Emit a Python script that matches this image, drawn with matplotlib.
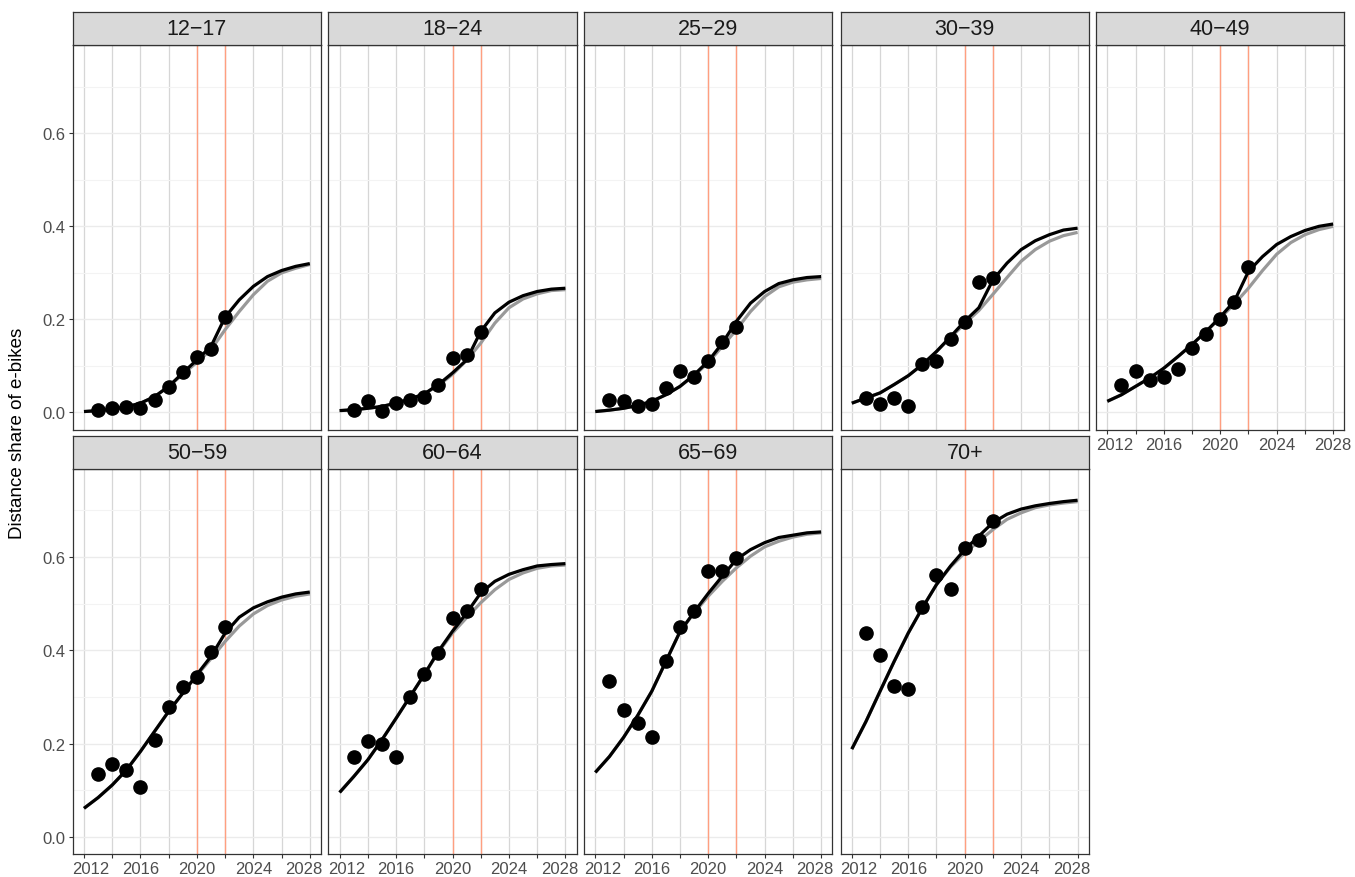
import matplotlib
matplotlib.use("Agg")
import matplotlib.pyplot as plt
from matplotlib.transforms import ScaledTranslation

plt.rcParams['font.family'] = ['Liberation Sans', 'DejaVu Sans']

# ---- data -------------------------------------------------------------
groups = ["12−17", "18−24", "25−29", "30−39", "40−49",
          "50−59", "60−64", "65−69", "70+"]

obs_years = list(range(2013, 2023))
fit_years = list(range(2012, 2029))

obs_12_17 = [0.006, 0.009, 0.011, 0.009, 0.027, 0.054, 0.088, 0.120, 0.137, 0.205]
obs_18_24 = [0.006, 0.024, 0.004, 0.020, 0.026, 0.034, 0.060, 0.117, 0.123, 0.174]
obs_25_29 = [0.027, 0.024, 0.013, 0.018, 0.052, 0.090, 0.077, 0.111, 0.151, 0.184]
obs_30_39 = [0.032, 0.019, 0.032, 0.015, 0.105, 0.110, 0.158, 0.194, 0.280, 0.290]
obs_40_49 = [0.059, 0.090, 0.069, 0.077, 0.094, 0.138, 0.169, 0.201, 0.237, 0.312]
obs_50_59 = [0.135, 0.156, 0.143, 0.106, 0.208, 0.278, 0.321, 0.342, 0.396, 0.449]
obs_60_64 = [0.172, 0.206, 0.200, 0.171, 0.299, 0.350, 0.394, 0.470, 0.484, 0.532]
obs_65_69 = [0.335, 0.272, 0.244, 0.215, 0.376, 0.449, 0.484, 0.570, 0.570, 0.599]
obs_70p = [0.437, 0.391, 0.324, 0.317, 0.492, 0.561, 0.531, 0.620, 0.636, 0.677]

# fitted trajectory including the latest observations (black)
fit_12_17 = [0.002, 0.004, 0.007, 0.012, 0.020, 0.034, 0.056, 0.085, 0.113, 0.142,
             0.205, 0.242, 0.271, 0.292, 0.305, 0.314, 0.320]
fit_18_24 = [0.004, 0.006, 0.009, 0.013, 0.020, 0.029, 0.040, 0.060, 0.085, 0.113,
             0.174, 0.214, 0.237, 0.251, 0.260, 0.265, 0.267]
fit_25_29 = [0.002, 0.005, 0.009, 0.015, 0.024, 0.038, 0.056, 0.081, 0.110, 0.149,
             0.196, 0.235, 0.260, 0.277, 0.285, 0.290, 0.292]
fit_30_39 = [0.020, 0.031, 0.042, 0.060, 0.079, 0.103, 0.131, 0.163, 0.196, 0.225,
             0.285, 0.321, 0.350, 0.369, 0.382, 0.392, 0.396]
fit_40_49 = [0.024, 0.038, 0.056, 0.074, 0.095, 0.120, 0.146, 0.174, 0.205, 0.239,
             0.303, 0.335, 0.361, 0.378, 0.391, 0.400, 0.405]
fit_50_59 = [0.061, 0.084, 0.111, 0.143, 0.183, 0.226, 0.269, 0.308, 0.348, 0.387,
             0.437, 0.471, 0.491, 0.504, 0.514, 0.521, 0.525]
fit_60_64 = [0.095, 0.129, 0.165, 0.208, 0.254, 0.301, 0.348, 0.398, 0.441, 0.480,
             0.523, 0.548, 0.563, 0.573, 0.581, 0.584, 0.586]
fit_65_69 = [0.138, 0.172, 0.213, 0.260, 0.312, 0.376, 0.440, 0.482, 0.522, 0.559,
             0.595, 0.616, 0.631, 0.642, 0.647, 0.652, 0.654]
fit_70p = [0.188, 0.247, 0.312, 0.376, 0.437, 0.491, 0.541, 0.581, 0.616, 0.645,
           0.674, 0.692, 0.703, 0.710, 0.715, 0.719, 0.722]

# baseline trajectory (grey)
base_12_17 = [0.002, 0.004, 0.007, 0.012, 0.020, 0.034, 0.056, 0.082, 0.108, 0.135,
              0.178, 0.217, 0.253, 0.282, 0.300, 0.310, 0.318]
base_18_24 = [0.004, 0.006, 0.009, 0.013, 0.020, 0.029, 0.040, 0.058, 0.082, 0.112,
              0.149, 0.192, 0.225, 0.244, 0.255, 0.262, 0.264]
base_25_29 = [0.002, 0.005, 0.009, 0.015, 0.024, 0.038, 0.056, 0.079, 0.107, 0.142,
              0.178, 0.217, 0.249, 0.270, 0.280, 0.285, 0.288]
base_30_39 = [0.020, 0.031, 0.042, 0.060, 0.079, 0.103, 0.131, 0.161, 0.191, 0.219,
              0.254, 0.290, 0.325, 0.350, 0.368, 0.380, 0.387]
base_40_49 = [0.024, 0.038, 0.056, 0.074, 0.095, 0.120, 0.146, 0.174, 0.203, 0.233,
              0.267, 0.305, 0.340, 0.365, 0.382, 0.393, 0.400]
base_50_59 = [0.061, 0.084, 0.111, 0.143, 0.183, 0.226, 0.269, 0.308, 0.346, 0.382,
              0.419, 0.452, 0.478, 0.496, 0.508, 0.516, 0.521]
base_60_64 = [0.095, 0.129, 0.165, 0.208, 0.254, 0.301, 0.348, 0.396, 0.437, 0.470,
              0.502, 0.530, 0.552, 0.566, 0.576, 0.581, 0.583]
base_65_69 = [0.138, 0.172, 0.213, 0.260, 0.312, 0.376, 0.440, 0.480, 0.516, 0.548,
              0.577, 0.602, 0.622, 0.634, 0.643, 0.649, 0.652]
base_70p = [0.188, 0.247, 0.312, 0.376, 0.437, 0.491, 0.541, 0.579, 0.609, 0.634,
            0.659, 0.681, 0.695, 0.706, 0.712, 0.716, 0.719]

obs_all = [obs_12_17, obs_18_24, obs_25_29, obs_30_39, obs_40_49,
           obs_50_59, obs_60_64, obs_65_69, obs_70p]
fit_all = [fit_12_17, fit_18_24, fit_25_29, fit_30_39, fit_40_49,
           fit_50_59, fit_60_64, fit_65_69, fit_70p]
base_all = [base_12_17, base_18_24, base_25_29, base_30_39, base_40_49,
            base_50_59, base_60_64, base_65_69, base_70p]

event_years = [2020, 2022]
x_ticks = list(range(2012, 2029, 2))
x_labels = [str(y) if (y - 2012) % 4 == 0 else "" for y in x_ticks]
y_ticks = [0.0, 0.2, 0.4, 0.6]
y_minor = [0.1, 0.3, 0.5, 0.7]
y_label = "Distance share of e-bikes"

# ---- layout (pixel geometry) ------------------------------------------
W, H = 1355, 878
fig = plt.figure(figsize=(W / 100, H / 100), dpi=100)
fig.patch.set_facecolor("white")


def rect(l, t, r, b):
    return [l / W, 1 - b / H, (r - l) / W, (b - t) / H]


col_left = [72.7, 328.3, 584.0, 840.5, 1096.0]
panel_w = 248.4
y_range = (-0.037, 0.789)
rows = [
    dict(strip=(13.3, 46.3), panel=(46.3, 430.7)),
    dict(strip=(437.3, 470.0), panel=(470.0, 855.0)),
]

BORDER = "#333333"
TICKTXT = "#4D4D4D"

for i, name in enumerate(groups):
    r, c = divmod(i, 5)
    row = rows[r]
    l = col_left[c]
    rgt = l + panel_w
    pt, pb = row["panel"]
    ax = fig.add_axes(rect(l, pt, rgt, pb))
    ax.set_xlim(2011.2, 2028.8)
    ax.set_ylim(*y_range)

    # grid
    for xv in x_ticks:
        ax.axvline(xv, color="#D6D6D6", lw=0.9, zorder=0)
    for yv in y_ticks:
        ax.axhline(yv, color="#EBEBEB", lw=1.0, zorder=0)
    for yv in y_minor:
        ax.axhline(yv, color="#F3F3F3", lw=0.8, zorder=0)
    for ev in event_years:
        ax.axvline(ev, color="#FF9F80", lw=1.0, zorder=1)

    ax.plot(fit_years, base_all[i], color="#999999", lw=2.3, zorder=2,
            solid_capstyle="butt")
    ax.plot(fit_years, fit_all[i], color="black", lw=2.3, zorder=3,
            solid_capstyle="butt")
    ax.plot(obs_years, obs_all[i], "o", color="black", ms=9.5, zorder=4)

    for s in ax.spines.values():
        s.set_color(BORDER)
        s.set_linewidth(0.9)

    ax.set_xticks(x_ticks)
    ax.set_yticks(y_ticks)
    ax.tick_params(axis="both", direction="out", length=3.2, width=0.8,
                   color=BORDER, labelcolor=TICKTXT, labelsize=12, pad=2.0)
    show_x = (r == 1) or (i == 4)
    show_y = (c == 0)
    if show_x:
        ax.set_xticklabels(x_labels)
        # nudge the outermost year labels inward so neighbours don't collide
        labs = ax.get_xticklabels()
        first, last = labs[0], labs[-1]
        first.set_transform(first.get_transform()
                            + ScaledTranslation(7 / 100, 0, fig.dpi_scale_trans))
        if i != 4:
            last.set_transform(last.get_transform()
                               + ScaledTranslation(-6 / 100, 0, fig.dpi_scale_trans))
    else:
        ax.tick_params(axis="x", length=0, labelbottom=False)
    if show_y:
        ax.set_yticklabels([f"{v:.1f}" for v in y_ticks])
    else:
        ax.tick_params(axis="y", length=0, labelleft=False)

    # facet strip
    st, sb = row["strip"]
    sax = fig.add_axes(rect(l, st, rgt, sb))
    sax.set_xticks([])
    sax.set_yticks([])
    sax.set_facecolor("#D9D9D9")
    for s in sax.spines.values():
        s.set_color(BORDER)
        s.set_linewidth(0.9)
    sax.text(0.5, 0.5, name, transform=sax.transAxes, ha="center",
             va="center", fontsize=15.5, color="#1A1A1A")

fig.text(18 / W, 1 - 433 / H, y_label, rotation=90, ha="center", va="center",
         fontsize=13.5, color="black")

fig.savefig("out.png", dpi=100)
